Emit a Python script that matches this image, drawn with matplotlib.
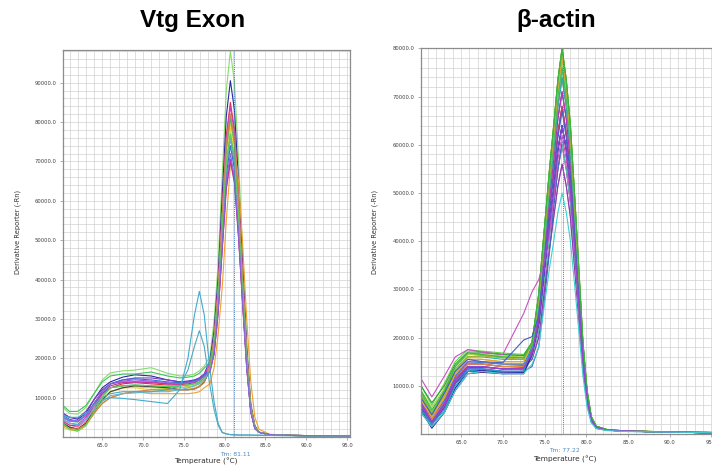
import numpy as np
import matplotlib
matplotlib.use("Agg")
import matplotlib.pyplot as plt
from matplotlib.ticker import MultipleLocator, FormatStrFormatter

# ---- Vtg Exon panel: temperatures (degC) and derivative reporter (x1000) ----
temps_vtg = [60.2, 61.0, 62.0, 63.0, 64.0, 65.0, 66.0, 67.5, 69.0, 71.0, 73.0,
             74.5, 75.5, 76.3, 76.9, 77.5, 78.2, 78.7, 79.2, 79.7, 80.2, 80.7,
             81.2, 81.7, 82.2, 82.7, 83.2, 83.7, 84.2, 85.5, 88.0, 95.4]

vtg_curves = [
    ("#86dc6c", [7.5, 6.0, 5.8, 7.5, 11.0, 14.5, 16.3, 16.8, 17.0, 17.6, 16.2,
                 15.5, 15.6, 16.0, 16.8, 18.0, 20.5, 29.5, 44.0, 66.5, 88.0, 98.0,
                 90.0, 70.5, 47.0, 24.5, 8.8, 3.0, 1.2, 0.6, 0.4, 0.25]),
    ("#2a2aa0", [6.0, 5.0, 4.5, 6.0, 9.5, 12.5, 14.0, 15.2, 15.8, 15.5, 14.5,
                 14.0, 14.2, 14.5, 15.0, 16.0, 19.5, 27.0, 40.5, 61.5, 81.5, 90.5,
                 83.0, 65.0, 43.5, 22.5, 8.1, 2.8, 1.2, 0.6, 0.4, 0.25]),
    ("#e0303a", [3.5, 2.5, 2.0, 3.5, 7.0, 10.5, 12.5, 13.5, 13.8, 13.5, 13.2,
                 13.3, 13.5, 13.8, 14.5, 15.5, 18.5, 25.5, 38.0, 58.0, 76.5, 85.0,
                 78.0, 61.0, 41.0, 21.0, 7.7, 2.6, 1.2, 0.6, 0.4, 0.25]),
    ("#d03cc8", [4.5, 3.5, 3.2, 5.0, 8.5, 11.5, 13.5, 14.0, 14.0, 14.0, 13.5,
                 13.5, 14.0, 14.3, 15.0, 16.0, 18.5, 25.0, 38.0, 57.0, 75.5, 84.0,
                 77.0, 60.5, 40.5, 21.0, 7.6, 2.5, 1.2, 0.6, 0.4, 0.25]),
    ("#f0a030", [3.0, 2.2, 1.8, 3.0, 6.0, 8.5, 10.0, 11.0, 11.5, 11.0, 11.0,
                 11.0, 11.0, 11.2, 11.5, 12.5, 13.5, 17.5, 26.0, 38.0, 55.0, 69.0,
                 73.5, 65.0, 49.0, 30.0, 14.0, 5.0, 2.0, 0.7, 0.4, 0.25]),
    ("#f07aa0", [4.0, 3.0, 2.5, 4.0, 7.5, 10.5, 12.5, 13.0, 13.0, 12.8, 12.5,
                 12.5, 12.8, 13.0, 13.8, 15.0, 18.0, 24.5, 37.0, 56.0, 74.0, 82.0,
                 75.5, 59.0, 39.5, 20.5, 7.4, 2.5, 1.2, 0.6, 0.4, 0.25]),
    ("#c8d040", [2.5, 1.8, 1.5, 2.8, 6.0, 9.0, 11.5, 12.5, 12.8, 12.5, 12.3,
                 12.5, 12.8, 13.0, 13.5, 14.5, 17.5, 24.0, 36.0, 54.5, 72.0, 80.0,
                 73.5, 57.5, 38.5, 20.0, 7.2, 2.4, 1.2, 0.6, 0.4, 0.25]),
    ("#e8d040", [3.0, 2.0, 1.6, 3.0, 6.5, 9.5, 11.5, 12.5, 12.5, 12.0, 11.8,
                 12.0, 12.2, 12.5, 13.0, 14.0, 17.5, 23.5, 35.5, 53.5, 70.5, 78.5,
                 72.0, 56.5, 37.5, 19.5, 7.1, 2.4, 1.2, 0.6, 0.4, 0.25]),
    ("#2aa0a0", [5.0, 4.0, 3.8, 5.5, 8.5, 11.0, 12.5, 13.0, 13.2, 13.0, 12.8,
                 13.0, 13.2, 13.5, 14.0, 15.0, 17.0, 23.0, 34.5, 52.0, 69.0, 76.5,
                 70.5, 55.0, 36.5, 19.0, 6.9, 2.3, 1.2, 0.6, 0.4, 0.25]),
    ("#404040", [3.5, 2.5, 2.0, 3.5, 6.5, 9.5, 11.5, 12.5, 13.0, 12.8, 12.5,
                 12.0, 12.0, 12.2, 12.8, 14.0, 17.0, 23.0, 34.0, 51.5, 68.5, 76.0,
                 70.0, 54.5, 36.5, 19.0, 6.8, 2.3, 1.2, 0.6, 0.4, 0.25]),
    ("#8040c0", [6.0, 5.0, 4.8, 6.5, 9.5, 12.0, 13.5, 14.5, 15.0, 15.0, 14.5,
                 14.0, 14.0, 14.3, 14.8, 15.8, 17.0, 21.0, 31.5, 48.0, 63.5, 70.5,
                 65.0, 51.0, 34.0, 17.5, 6.3, 2.1, 1.2, 0.6, 0.4, 0.25]),
    ("#c030a0", [4.0, 3.0, 2.8, 4.5, 8.0, 11.0, 13.0, 13.8, 14.0, 13.8, 13.5,
                 13.5, 13.8, 14.0, 14.5, 15.5, 16.5, 21.0, 31.5, 47.5, 63.0, 70.0,
                 64.5, 50.5, 33.5, 17.5, 6.3, 2.1, 1.2, 0.6, 0.4, 0.25]),
    ("#40c060", [8.0, 6.5, 6.5, 8.0, 11.0, 14.0, 15.5, 16.0, 16.0, 16.5, 15.5,
                 15.0, 15.2, 15.5, 16.2, 17.5, 19.0, 24.5, 36.5, 55.0, 73.0, 81.0,
                 74.5, 58.5, 39.0, 20.0, 7.3, 2.4, 1.2, 0.6, 0.4, 0.25]),
    ("#3070d0", [5.5, 4.5, 4.0, 5.5, 8.5, 11.5, 13.5, 14.5, 14.8, 14.5, 14.0,
                 13.8, 14.0, 14.3, 14.8, 15.8, 17.0, 22.0, 33.5, 50.5, 66.5, 74.0,
                 68.0, 53.5, 35.5, 18.5, 6.7, 2.2, 1.2, 0.6, 0.4, 0.25]),
    ("#d08050", [3.0, 2.2, 2.0, 3.2, 6.0, 8.5, 10.0, 11.0, 11.5, 12.0, 12.0,
                 12.0, 12.0, 12.2, 12.8, 13.8, 18.0, 24.5, 37.0, 56.0, 74.0, 82.0,
                 75.5, 59.0, 39.5, 20.5, 7.4, 2.5, 1.2, 0.6, 0.4, 0.25]),
    ("#60b8d8", [4.5, 3.5, 3.0, 4.5, 7.0, 9.0, 10.5, 11.0, 11.2, 11.5, 11.5,
                 12.0, 12.5, 13.0, 13.5, 14.5, 17.0, 23.0, 34.0, 51.5, 68.5, 76.0,
                 70.0, 54.5, 36.5, 19.0, 6.8, 2.3, 1.2, 0.6, 0.4, 0.25]),
    ("#40acd0", [5.5, 5.0, 5.0, 6.0, 8.0, 9.5, 10.0, 9.8, 9.5, 9.0, 8.5,
                 12.0, 20.0, 31.0, 37.0, 31.0, 17.0, 9.0, 3.5, 1.2, 0.8, 0.6,
                 0.55, 0.5, 0.5, 0.5, 0.5, 0.45, 0.45, 0.4, 0.35, 0.25]),
    ("#50a8c0", [5.0, 4.0, 4.0, 5.5, 8.0, 10.0, 11.0, 11.5, 11.5, 11.5, 12.0,
                 13.0, 17.0, 23.0, 27.0, 23.0, 13.0, 7.0, 3.0, 1.1, 0.8, 0.6,
                 0.55, 0.5, 0.5, 0.5, 0.5, 0.45, 0.45, 0.4, 0.35, 0.25]),
    ("#60d050", [3.5, 2.0, 1.5, 3.0, 6.5, 10.0, 12.5, 13.0, 13.2, 13.0, 12.8,
                 13.0, 13.2, 13.5, 14.0, 15.0, 17.0, 23.0, 34.5, 52.5, 69.5, 77.0,
                 71.0, 55.5, 37.0, 19.0, 7.0, 2.3, 1.2, 0.6, 0.4, 0.25]),
    ("#9060e0", [5.0, 4.2, 4.0, 5.5, 8.5, 11.5, 13.5, 14.2, 14.5, 14.2, 13.8,
                 13.5, 13.8, 14.0, 14.5, 15.5, 16.5, 21.5, 32.5, 49.0, 65.0, 72.0,
                 66.0, 52.0, 34.5, 18.0, 6.5, 2.2, 1.2, 0.6, 0.4, 0.25]),
]
tm_vtg = 81.11

# ---- beta-actin panel ----
temps_actin = [60.2, 61.5, 63.0, 64.3, 65.8, 67.5, 70.0, 72.5,
               73.5, 74.3, 75.0, 75.6, 76.1, 76.6, 77.1, 77.6, 78.1, 78.6,
               79.1, 79.6, 80.1, 80.6, 81.2, 82.5, 85.0, 90.0, 95.3]

# melt peaks (73.5 C onwards) read for groups of wells with similar peak height
peak_80 = [19, 29, 43, 55, 64, 73.5, 80, 73.5, 64, 49.5, 34.5, 19, 9, 3.6, 1.6, 0.9, 0.6, 0.45, 0.3]
peak_78 = [19, 28, 42, 54, 62.5, 72, 78, 72, 62.5, 48.5, 33.5, 18.5, 8.6, 3.5, 1.6, 0.9, 0.6, 0.45, 0.3]
peak_76 = [18.5, 27.5, 41, 52.5, 61, 70, 76, 70, 61, 47, 32.5, 18, 8.4, 3.4, 1.5, 0.8, 0.6, 0.4, 0.3]
peak_74 = [18, 26.5, 40, 51, 59, 68, 74, 68, 59, 46, 32, 18, 8.1, 3.3, 1.5, 0.8, 0.6, 0.4, 0.3]
peak_71 = [17.5, 25.5, 38.5, 49, 57, 65.5, 71, 65.5, 57, 44, 30.5, 17, 7.8, 3.2, 1.4, 0.8, 0.6, 0.4, 0.25]
peak_68 = [17, 24.5, 36.5, 47, 54.5, 62.5, 68, 62.5, 54.5, 42, 29, 16.5, 7.5, 3.1, 1.4, 0.8, 0.6, 0.4, 0.25]
peak_64 = [16.5, 23, 34.5, 44, 51, 59, 64, 59, 51, 39.5, 27.5, 15.5, 7, 2.9, 1.3, 0.8, 0.6, 0.4, 0.25]
peak_60 = [16, 21.5, 32.5, 41.5, 48, 55, 60, 55, 48, 37, 26, 14.5, 6.6, 2.7, 1.2, 0.8, 0.6, 0.4, 0.25]
peak_56 = [15.5, 20, 30, 38.5, 45, 51.5, 56, 51.5, 45, 34.5, 24, 13.5, 6.2, 2.5, 1.2, 0.8, 0.55, 0.4, 0.25]
peak_50 = [14.5, 18, 27, 34.5, 40, 46, 50, 46, 40, 31, 21.5, 12, 5.5, 2.3, 1.1, 0.7, 0.5, 0.4, 0.25]
peak_shoulder_mag = [29.5, 32, 36, 42, 49, 57, 62, 57, 49.5, 38.5, 26.5, 15, 6.8, 2.8, 1.3, 0.8, 0.6, 0.4, 0.25]
peak_shoulder_blue = [20.2, 24.5, 36, 46, 53.5, 61.5, 67, 61.5, 53.5, 41.5, 29, 16, 7.4, 3, 1.4, 0.8, 0.6, 0.4, 0.25]
peak_late = [14, 18, 28, 38, 47, 55, 60.5, 61, 55, 44, 31, 18, 8, 3.3, 1.4, 0.8, 0.6, 0.4, 0.25]

# low-temperature part (60.2 - 72.5 C) per well, with its peak group
actin_curves = [
    ("#d860c0", [7.5, 3.5, 7.5, 12.5, 15.0, 15.0, 14.5, 14.5], peak_56),
    ("#8040b0", [6.5, 2.5, 6.0, 11.0, 13.8, 13.8, 13.5, 13.5], peak_56),
    ("#e070a0", [6.0, 3.0, 7.0, 12.0, 14.8, 14.5, 14.0, 14.0], peak_60),
    ("#b02090", [5.5, 2.0, 5.5, 10.5, 13.0, 13.0, 12.8, 13.0], peak_60),
    ("#50c8b0", [5.5, 2.0, 5.5, 10.5, 13.0, 13.0, 12.5, 12.8], peak_60),
    ("#602090", [4.5, 1.5, 4.5, 9.0, 12.5, 12.8, 12.5, 12.5], peak_64),
    ("#7a30c8", [5.5, 2.0, 5.5, 10.5, 13.5, 13.5, 13.0, 13.0], peak_64),
    ("#2020a0", [5.0, 1.2, 4.5, 9.5, 13.0, 13.2, 12.8, 12.8], peak_64),
    ("#5060c0", [6.0, 2.5, 6.0, 10.5, 13.0, 13.0, 12.8, 13.0], peak_late),
    ("#d83030", [6.5, 2.5, 6.0, 11.0, 14.0, 14.0, 13.5, 13.5], peak_68),
    ("#9050e0", [7.0, 3.5, 7.0, 12.0, 14.5, 14.5, 14.0, 14.0], peak_68),
    ("#c84060", [7.0, 3.0, 6.5, 11.5, 14.5, 14.5, 14.0, 14.2], peak_68),
    ("#e09040", [6.0, 3.0, 6.5, 11.5, 14.5, 14.5, 14.0, 14.0], peak_71),
    ("#3070e0", [6.0, 2.5, 6.0, 11.0, 13.5, 13.5, 13.0, 13.0], peak_71),
    ("#c030c0", [6.0, 2.5, 6.0, 11.0, 14.0, 14.0, 13.5, 13.5], peak_71),
    ("#e0a050", [8.0, 4.0, 8.0, 13.0, 15.5, 15.0, 14.5, 14.5], peak_74),
    ("#4080d0", [7.0, 3.5, 7.0, 12.0, 15.0, 14.8, 14.5, 14.5], peak_74),
    ("#30b0a0", [8.5, 4.5, 8.5, 13.5, 16.0, 16.0, 15.5, 15.5], peak_74),
    ("#d8c840", [7.0, 3.5, 7.5, 12.5, 15.5, 15.5, 15.0, 15.0], peak_76),
    ("#20a0c0", [5.0, 2.0, 5.0, 10.0, 13.0, 13.5, 13.0, 13.0], peak_76),
    ("#50c050", [8.5, 4.5, 9.0, 14.0, 16.5, 16.8, 16.5, 16.2], peak_76),
    ("#80d030", [8.0, 4.5, 9.0, 13.5, 16.0, 16.3, 16.0, 15.8], peak_78),
    ("#60d040", [10.0, 6.0, 10.5, 15.0, 17.5, 17.2, 16.8, 16.5], peak_78),
    ("#e8a030", [7.5, 3.5, 7.5, 12.5, 15.5, 15.5, 15.0, 15.0], peak_78),
    ("#a8b030", [8.0, 4.0, 8.0, 13.0, 16.0, 16.2, 15.8, 15.5], peak_80),
    ("#b0d050", [9.0, 5.5, 9.5, 14.0, 16.5, 16.5, 16.2, 16.0], peak_80),
    ("#30a040", [10.0, 6.5, 10.0, 14.5, 17.0, 17.0, 16.5, 16.3], peak_80),
    ("#3cb83c", [9.0, 5.0, 9.0, 14.0, 16.8, 16.5, 16.0, 15.8], peak_80),
    ("#4060c8", [7.5, 4.0, 8.5, 13.0, 15.5, 15.0, 14.8, 19.5], peak_shoulder_blue),
    ("#c850c0", [11.5, 7.7, 12.0, 16.0, 17.5, 17.0, 16.5, 25.0], peak_shoulder_mag),
    ("#8848d8", [6.5, 2.5, 6.5, 11.5, 14.0, 14.0, 13.5, 13.8], peak_64),
    ("#40d0d0", [4.5, 1.5, 4.5, 9.0, 12.5, 13.0, 12.5, 12.5], peak_50),
]
tm_actin = 77.22

W, H = 712, 466
fig = plt.figure(figsize=(W / 100, H / 100), dpi=100)
ax1 = fig.add_axes([63 / W, 1 - 437 / H, 287 / W, 387 / H])
ax2 = fig.add_axes([421 / W, 1 - 434 / H, 293 / W, 386 / H])


def style_axes(ax, xmax, ymax):
    ax.set_xlim(60.2, xmax)
    ax.set_ylim(0, ymax)
    ax.set_xticks(np.arange(65, 96, 5))
    ax.set_yticks(np.arange(10000, ymax + 1, 10000))
    ax.xaxis.set_minor_locator(MultipleLocator(1))
    ax.yaxis.set_minor_locator(MultipleLocator(2000))
    ax.xaxis.set_major_formatter(FormatStrFormatter("%.1f"))
    ax.yaxis.set_major_formatter(FormatStrFormatter("%.1f"))
    ax.grid(which="both", color="#d2d2d2", lw=0.5)
    ax.set_axisbelow(True)
    ax.tick_params(labelsize=3.8, labelcolor="#404040", color="#909090",
                   length=2, width=0.5, pad=2.5)
    ax.tick_params(which="minor", length=1, width=0.4, color="#b0b0b0")
    for sp in ax.spines.values():
        sp.set_color("#8c8c8c")
        sp.set_linewidth(0.9)


style_axes(ax1, 95.35, 98300)
style_axes(ax2, 95.3, 80100)

for color, vals in vtg_curves:
    ax1.plot(temps_vtg, np.array(vals) * 1000, color=color, lw=0.8)

for color, low, peak in actin_curves:
    ax2.plot(temps_actin, np.array(low + peak) * 1000, color=color, lw=0.8)

for ax, tm in ((ax1, tm_vtg), (ax2, tm_actin)):
    ax.axvline(tm, color="#5080b8", lw=0.7, ls=(0, (1, 1)))

# titles and axis texts sit at fixed spots like the exported screenshot
fig.text(193 / W, 1 - 20 / H, "Vtg Exon", ha="center", va="center",
         fontsize=17.5, fontweight="bold", family="Liberation Sans")
fig.text(556 / W, 1 - 20 / H, "β-actin", ha="center", va="center",
         fontsize=17.5, fontweight="bold", family="Liberation Sans")

fig.text(18 / W, 1 - 232 / H, "Derivative Reporter (-Rn)", rotation=90,
         ha="center", va="center", fontsize=4.8, color="#303030")
fig.text(375 / W, 1 - 232 / H, "Derivative Reporter (-Rn)", rotation=90,
         ha="center", va="center", fontsize=4.8, color="#303030")

fig.text(206 / W, 1 - 461 / H, "Temperature (°C)", ha="center", va="center",
         fontsize=5.3, color="#303030")
fig.text(565 / W, 1 - 459 / H, "Temperature (°C)", ha="center", va="center",
         fontsize=5.3, color="#303030")

fig.text(235 / W, 1 - 454 / H, "Tm: 81.11", ha="center", va="center",
         fontsize=4.3, color="#4a88c0")
fig.text(564 / W, 1 - 451 / H, "Tm: 77.22", ha="center", va="center",
         fontsize=4.3, color="#4a88c0")

fig.savefig("out.png", dpi=100)
